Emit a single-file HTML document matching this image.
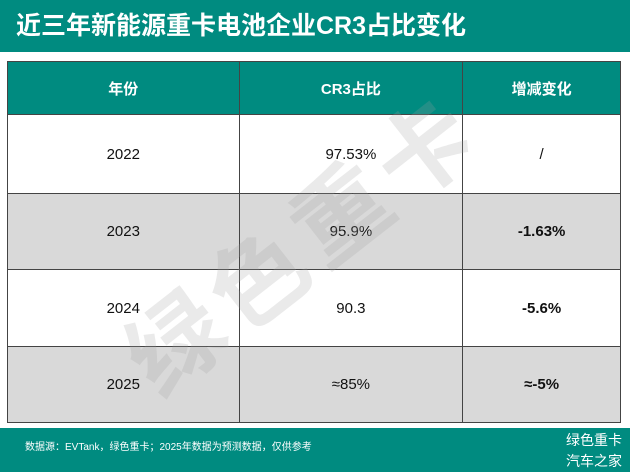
<!DOCTYPE html>
<html><head><meta charset="utf-8"><style>
body{margin:0;width:630px;height:472px;background:#fff;position:relative;overflow:hidden;font-family:"Liberation Sans","Noto Sans CJK SC",sans-serif}
.title{position:absolute;left:0;top:0;width:630px;height:52px;background:#008b80;color:#fff;font-size:25px;font-weight:bold;line-height:52px;padding-left:16px;box-sizing:border-box}
table{position:absolute;left:7px;top:61px;width:614px;height:361px;border-collapse:collapse;border:1.5px solid #333}
td{border:1px solid #444;text-align:center;font-size:15px;color:#111;padding:0}
tr.h td{background:#008b80;color:#fff;font-weight:bold;height:52px;font-size:15px}
tr.g td{background:#d9d9d9}
td.b{font-weight:bold}
.wm{position:absolute;left:90px;top:170px;font-size:95px;font-weight:bold;color:rgba(160,160,160,0.22);transform:rotate(-38deg);transform-origin:center;white-space:nowrap;letter-spacing:10px}
.foot{position:absolute;left:0;top:428px;width:630px;height:44px;background:#008b80;color:#fff}
.src{position:absolute;left:25px;top:10px;font-size:10px}
.brand{position:absolute;right:8px;top:2px;font-size:14px;line-height:21px;text-align:right}
</style></head><body>
<div class="title">近三年新能源重卡电池企业CR3占比变化</div>
<table>
<colgroup><col style="width:232px"><col style="width:224px"><col style="width:158px"></colgroup>
<tr class="h"><td>年份</td><td>CR3占比</td><td>增减变化</td></tr>
<tr style="height:79px"><td>2022</td><td>97.53%</td><td>/</td></tr>
<tr class="g" style="height:76px"><td>2023</td><td>95.9%</td><td class="b">-1.63%</td></tr>
<tr style="height:77px"><td>2024</td><td>90.3</td><td class="b">-5.6%</td></tr>
<tr class="g" style="height:76px"><td>2025</td><td>≈85%</td><td class="b">≈-5%</td></tr>
</table>
<div class="wm">绿色重卡</div>
<div class="foot"><div class="src">数据源：EVTank，绿色重卡；2025年数据为预测数据，仅供参考</div><div class="brand">绿色重卡<br>汽车之家</div></div>
</body></html>
